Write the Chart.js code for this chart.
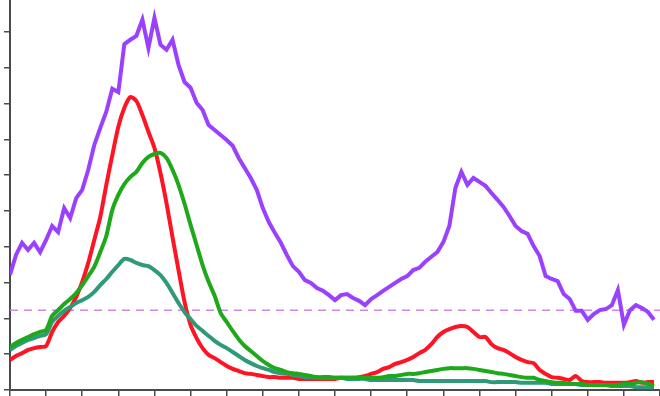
<!DOCTYPE html>
<html>
<head>
<meta charset="utf-8">
<script src="https://cdn.jsdelivr.net/npm/chart.js@4"></script>
<style>
  html, body { margin: 0; padding: 0; background: #fff; }
  #wrap { width: 660px; height: 396px; position: relative; }
</style>
</head>
<body>
<div id="wrap"><canvas id="trendChart"></canvas></div>
<script>
// ==============================================================================
// DATA (weekly readings, one tick every 6 weeks)
// ==============================================================================
const purpleSeries = [
  32.1, 37.7, 41.1, 39.1, 41.1, 38.5, 41.9, 45.8, 44.1, 50.8,
  48.0, 53.6, 55.9, 61.5, 68.4, 73.2, 77.7, 84.1, 83.2, 96.6,
  97.8, 98.9, 103.4, 95.5, 103.9, 96.4, 95.0, 97.8, 90.8, 86.0,
  84.4, 80.2, 78.2, 74.0, 72.6, 71.2, 69.8, 68.2, 64.8, 62.0,
  59.2, 55.9, 50.8, 46.9, 43.9, 41.1, 37.7, 34.6, 33.0, 30.7,
  29.9, 28.5, 27.7, 26.5, 25.1, 26.5, 26.8, 25.7, 24.9, 23.7,
  25.4, 26.5, 27.7, 28.8, 29.9, 31.0, 31.8, 33.5, 34.1, 35.8,
  37.2, 38.5, 41.3, 45.8, 56.4, 60.9, 57.3, 59.2, 58.1, 57.0,
  55.0, 53.1, 51.1, 48.6, 45.8, 44.4, 43.6, 40.2, 37.4, 31.8,
  31.0, 30.4, 26.8, 25.4, 22.1, 22.1, 19.6, 21.2, 22.3, 22.6,
  23.7, 27.9, 18.2, 22.3, 23.7, 22.9, 21.8, 19.6
];

const redSeries = [
  8.4, 9.5, 10.3, 11.2, 11.7, 12.0, 12.3, 16.2, 19.0, 20.7,
  22.9, 26.0, 30.2, 35.5, 41.9, 48.3, 57.3, 65.6, 73.5, 78.8,
  81.8, 80.7, 76.8, 72.1, 67.6, 60.6, 52.2, 42.7, 33.5, 24.6,
  18.2, 14.5, 11.7, 9.8, 8.9, 7.8, 6.7, 5.9, 5.3, 4.7,
  4.5, 4.2, 3.9, 3.6, 3.6, 3.4, 3.4, 3.4, 3.1, 3.1,
  3.1, 3.1, 3.1, 3.1, 3.1, 3.4, 3.4, 3.4, 3.6, 3.9,
  4.5, 5.0, 5.9, 6.4, 7.3, 7.8, 8.4, 9.2, 10.3, 11.2,
  12.8, 14.8, 16.2, 17.0, 17.6, 17.9, 17.6, 16.2, 14.8, 14.8,
  12.8, 11.7, 11.2, 10.3, 9.2, 8.4, 7.8, 7.5, 5.6, 4.5,
  3.6, 3.4, 3.1, 2.8, 3.9, 2.5, 2.2, 2.2, 2.2, 2.0,
  2.0, 2.0, 2.0, 2.2, 2.5, 2.0, 2.2, 2.2
];

const greenSeries = [
  12.0, 13.1, 14.0, 14.8, 15.6, 16.2, 16.8, 20.7, 22.3, 24.0,
  25.4, 27.1, 29.3, 31.8, 34.4, 38.5, 43.0, 50.3, 54.5, 57.5,
  59.5, 60.9, 63.4, 65.1, 65.9, 66.2, 64.8, 61.5, 57.3, 52.0,
  46.1, 40.5, 34.9, 30.2, 26.3, 21.5, 19.0, 16.5, 14.2, 12.3,
  10.9, 9.5, 8.1, 7.0, 6.1, 5.6, 5.0, 4.7, 4.5, 4.2,
  3.9, 3.6, 3.6, 3.6, 3.4, 3.4, 3.4, 3.4, 3.4, 3.4,
  3.4, 3.4, 3.6, 3.9, 3.9, 4.2, 4.5, 4.5, 4.7, 5.0,
  5.3, 5.6, 5.9, 6.1, 6.1, 6.1, 6.1, 5.9, 5.6, 5.3,
  5.0, 4.7, 4.5, 4.2, 3.9, 3.6, 3.4, 3.4, 2.8, 2.5,
  2.2, 2.0, 2.0, 1.7, 1.7, 1.7, 1.4, 1.4, 1.4, 1.4,
  1.4, 1.4, 1.7, 1.7, 2.0, 2.2, 1.7, 1.1
];

const tealSeries = [
  11.2, 12.3, 13.1, 14.0, 14.5, 15.1, 15.6, 19.0, 20.7, 22.1,
  23.2, 24.3, 25.1, 26.0, 27.4, 29.3, 31.0, 33.0, 34.9, 36.6,
  36.3, 35.5, 34.9, 34.6, 33.5, 32.1, 29.9, 27.1, 24.3, 21.8,
  19.8, 17.9, 16.5, 15.1, 13.7, 12.6, 11.7, 10.6, 9.5, 8.4,
  7.5, 6.7, 6.1, 5.6, 5.0, 4.7, 4.5, 4.2, 3.9, 3.6,
  3.6, 3.4, 3.4, 3.4, 3.4, 3.4, 3.1, 3.1, 3.1, 3.1,
  2.8, 2.8, 2.8, 2.8, 2.8, 2.8, 2.8, 2.8, 2.5, 2.5,
  2.5, 2.5, 2.5, 2.5, 2.5, 2.5, 2.5, 2.5, 2.5, 2.5,
  2.2, 2.2, 2.2, 2.2, 2.2, 2.0, 2.0, 2.0, 2.0, 2.0,
  1.7, 1.7, 1.7, 1.7, 1.7, 1.4, 1.4, 1.4, 1.4, 1.4,
  1.1, 1.1, 1.1, 1.1, 0.8, 0.8, 0.8, 0.8
];

const thresholdLevel = 22.3;
const weekSpan = [0, 108];     // x axis range (weeks)
const weekTickStep = 6;
const valueMax = 108.9;
const valueTickStep = 10;

// ==============================================================================
// CHART
// ==============================================================================
const toPoints = (arr) => arr.map((v, i) => ({ x: i, y: v }));

function lineSet(data, color, tension) {
    return {
        data: toPoints(data),
        borderColor: color,
        borderWidth: 4,
        pointRadius: 0,
        tension: tension,
        fill: false
    };
}

const axisColor = '#4a4a4a';

new Chart(document.getElementById('trendChart'), {
    type: 'line',
    data: {
        datasets: [
            {
                data: weekSpan.map(w => ({ x: w, y: thresholdLevel })),
                borderColor: '#cf86e6',
                borderWidth: 1.5,
                borderDash: [8, 6],
                pointRadius: 0,
                order: 5
            },
            Object.assign(lineSet(purpleSeries, '#9a40ff', 0), { order: 4 }),
            Object.assign(lineSet(redSeries, '#ff1424', 0.25), { order: 3 }),
            Object.assign(lineSet(tealSeries, '#2f9a78', 0.25), { order: 2 }),
            Object.assign(lineSet(greenSeries, '#1fa81a', 0.25), { order: 1 })
        ]
    },
    options: {
        responsive: true,
        maintainAspectRatio: false,
        animation: false,
        layout: { padding: { left: 4, right: 0, top: 0, bottom: 0 } },
        plugins: {
            legend: { display: false },
            tooltip: { enabled: false }
        },
        scales: {
            x: {
                type: 'linear',
                min: weekSpan[0],
                max: weekSpan[1],
                ticks: { display: false, stepSize: weekTickStep, includeBounds: false },
                grid: { drawOnChartArea: false, drawTicks: true, tickLength: 6, color: axisColor, lineWidth: 1.5 },
                border: { display: true, color: axisColor, width: 2 }
            },
            y: {
                min: 0,
                max: valueMax,
                ticks: { display: false, stepSize: valueTickStep, includeBounds: false },
                grid: { drawOnChartArea: false, drawTicks: true, tickLength: 6, color: axisColor, lineWidth: 1.5 },
                border: { display: true, color: axisColor, width: 2 }
            }
        }
    }
});
</script>
</body>
</html>
